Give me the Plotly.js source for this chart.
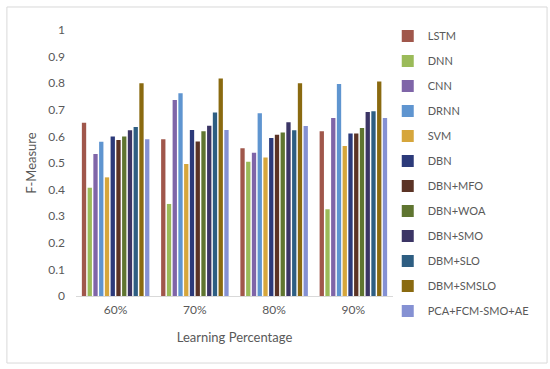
<!DOCTYPE html>
<html>
<head>
<meta charset="utf-8">
<script src="https://cdn.plot.ly/plotly-3.0.1.min.js"></script>
<style>html,body{margin:0;padding:0;background:#fff;}#chart{width:550px;height:369px;}</style>
</head>
<body>
<div id="chart"></div>
<script>
var categories = ['60%', '70%', '80%', '90%'];
var seriesNames = ['LSTM', 'DNN', 'CNN', 'DRNN', 'SVM', 'DBN', 'DBN+MFO', 'DBN+WOA', 'DBN+SMO', 'DBM+SLO', 'DBM+SMSLO', 'PCA+FCM-SMO+AE'];
var LSTM = [0.651, 0.589, 0.555, 0.619];
var DNN = [0.407, 0.346, 0.505, 0.326];
var CNN = [0.534, 0.737, 0.539, 0.669];
var DRNN = [0.580, 0.762, 0.687, 0.797];
var SVM = [0.446, 0.496, 0.521, 0.564];
var DBN = [0.600, 0.624, 0.594, 0.611];
var DBN_MFO = [0.586, 0.581, 0.606, 0.611];
var DBN_WOA = [0.600, 0.619, 0.615, 0.632];
var DBN_SMO = [0.623, 0.640, 0.653, 0.692];
var DBM_SLO = [0.635, 0.690, 0.623, 0.695];
var DBM_SMSLO = [0.800, 0.818, 0.800, 0.806];
var PCA_FCM_SMO_AE = [0.589, 0.624, 0.639, 0.669];
var colors = ['#a0574b', '#9bbb59', '#7f65a8', '#5f95d0', '#d6a63c', '#2c3a7a', '#5b3325', '#5f7530', '#3b3565', '#2e5e82', '#8a6a10', '#8591d3'];
var yTicks = [0, 0.1, 0.2, 0.3, 0.4, 0.5, 0.6, 0.7, 0.8, 0.9, 1];
var yTickLabels = ['0', '0.1', '0.2', '0.3', '0.4', '0.5', '0.6', '0.7', '0.8', '0.9', '1'];

var allValues = [LSTM, DNN, CNN, DRNN, SVM, DBN, DBN_MFO, DBN_WOA, DBN_SMO, DBM_SLO, DBM_SMSLO, PCA_FCM_SMO_AE];
var traces = allValues.map(function (vals, i) {
  return {
    type: 'bar', name: seriesNames[i], x: categories, y: vals,
    marker: {color: colors[i]}, legendgroup: 'g' + i
  };
});

var font = 'Lato, "Open Sans", sans-serif';
var layout = {
  width: 550, height: 369,
  margin: {l: 76, r: 157, t: 30, b: 73, autoexpand: false},
  paper_bgcolor: '#ffffff', plot_bgcolor: '#ffffff',
  barmode: 'group', bargap: 0.13, bargroupgap: 0.25,
  font: {family: font, color: '#595959', size: 12},
  xaxis: {
    type: 'category', automargin: false,
    showgrid: false, zeroline: false, showline: true, linecolor: '#d9d9d9', linewidth: 1,
    ticks: '', ticklabelstandoff: 3, tickfont: {size: 12, color: '#595959'},
    title: {text: 'Learning Percentage', font: {size: 13, color: '#595959'}, standoff: 16}
  },
  yaxis: {
    range: [0, 1], tickvals: yTicks, ticktext: yTickLabels, automargin: false,
    showgrid: false, zeroline: false, showline: false, ticks: '',
    ticklabelstandoff: 10,
    tickfont: {size: 12, color: '#595959'},
    title: {text: 'F-Measure', font: {size: 13, color: '#595959'}, standoff: 8}
  },
  legend: {
    xref: 'container', yref: 'container',
    x: 0.705, y: 0.942, xanchor: 'left', yanchor: 'top',
    font: {size: 11, color: '#595959'},
    tracegroupgap: 6, itemwidth: 30, bgcolor: 'rgba(0,0,0,0)', maxheight: 350
  },
  shapes: [{
    type: 'rect', xref: 'paper', yref: 'paper',
    x0: -0.218, x1: 1.486, y0: -0.252, y1: 1.0865,
    line: {color: '#d9d9d9', width: 1}, fillcolor: 'rgba(0,0,0,0)', layer: 'below'
  }]
};
Plotly.newPlot('chart', traces, layout, {displayModeBar: false, staticPlot: true});
</script>
</body>
</html>
